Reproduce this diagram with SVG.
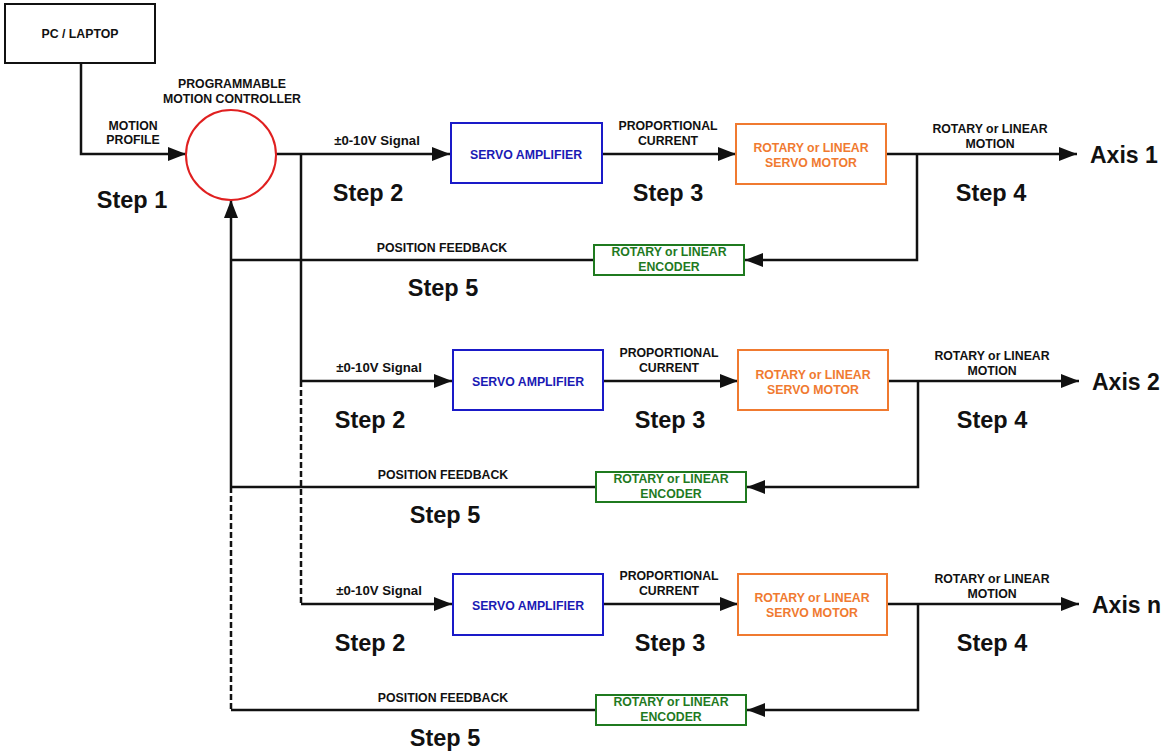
<svg xmlns="http://www.w3.org/2000/svg" width="1165" height="756" viewBox="0 0 1165 756">
<defs>
<style>
.t{font-family:"Liberation Sans",Arial,sans-serif;font-weight:bold;font-size:12.3px;text-anchor:middle;fill:#111}
.sig{font-size:13.2px}
.big{font-family:"Liberation Sans",Arial,sans-serif;font-weight:bold;font-size:23.5px;text-anchor:middle;fill:#111}
.ax{font-family:"Liberation Sans",Arial,sans-serif;font-weight:bold;font-size:23px;fill:#111}
.ln{stroke:#111;stroke-width:2.5;fill:none}
.dash{stroke:#111;stroke-width:2.5;fill:none;stroke-dasharray:6 3}
.amp{fill:#fff;stroke:#1a1ac8;stroke-width:2}
.mot{fill:#fff;stroke:#f07a30;stroke-width:2}
.enc{fill:#fff;stroke:#1f7a1f;stroke-width:2}
.tb{fill:#1a1ab4}
.to{fill:#f07a30}
.tg{fill:#1f7a1f}
</style>
<marker id="ah" markerUnits="userSpaceOnUse" markerWidth="18" markerHeight="14" refX="18" refY="7" orient="auto">
<path d="M0,0 L18,7 L0,14 z" fill="#111"/>
</marker>
</defs>
<rect width="1165" height="756" fill="#fff"/>

<g id="connectors">
<path class="ln" d="M81,63 V154 H186" marker-end="url(#ah)"/>
<path class="ln" d="M276,154 H450" marker-end="url(#ah)"/>
<path class="ln" d="M301,154 V381"/>
<path class="dash" d="M301,381 V604"/>
<path class="ln" d="M231,487 V200" marker-end="url(#ah)"/>
<path class="dash" d="M231,487 V710"/>
<!-- row 1 -->
<path class="ln" d="M602,154 H736" marker-end="url(#ah)"/>
<path class="ln" d="M886,154 H1077" marker-end="url(#ah)"/>
<path class="ln" d="M917,154 V260 H745" marker-end="url(#ah)"/>
<path class="ln" d="M594,260 H231"/>
<!-- row 2 -->
<path class="ln" d="M301,381 H452" marker-end="url(#ah)"/>
<path class="ln" d="M603,381 H738" marker-end="url(#ah)"/>
<path class="ln" d="M888,381 H1079" marker-end="url(#ah)"/>
<path class="ln" d="M918,381 V487 H747" marker-end="url(#ah)"/>
<path class="ln" d="M596,487 H231"/>
<!-- row 3 -->
<path class="ln" d="M301,604 H452" marker-end="url(#ah)"/>
<path class="ln" d="M603,604 H738" marker-end="url(#ah)"/>
<path class="ln" d="M887,604 H1079" marker-end="url(#ah)"/>
<path class="ln" d="M918,604 V710 H747" marker-end="url(#ah)"/>
<path class="ln" d="M596,710 H231"/>
</g>

<g id="pc">
<rect x="5" y="4" width="150" height="59" fill="#fff" stroke="#111" stroke-width="2"/>
<text class="t" x="80" y="38">PC / LAPTOP</text>
</g>

<g id="controller">
<circle cx="231" cy="155" r="45" fill="#fff" stroke="#e02020" stroke-width="2"/>
<text class="t" x="232" y="88">PROGRAMMABLE</text>
<text class="t" x="232" y="103">MOTION CONTROLLER</text>
</g>

<g id="labels-common">
<text class="t" x="133" y="130">MOTION</text>
<text class="t" x="133" y="144">PROFILE</text>
<text class="big" x="132" y="208">Step 1</text>
</g>

<!-- Row 1 -->
<g id="amp1">
<rect class="amp" x="451" y="123" width="151" height="60"/>
<text class="t tb" x="526" y="159">SERVO AMPLIFIER</text>
</g>
<g id="motor1">
<rect class="mot" x="736" y="124" width="150" height="60"/>
<text class="t to" x="811" y="152">ROTARY or LINEAR</text>
<text class="t to" x="811" y="167">SERVO MOTOR</text>
</g>
<g id="enc1">
<rect class="enc" x="594" y="245" width="150" height="30"/>
<text class="t tg" x="669" y="256">ROTARY or LINEAR</text>
<text class="t tg" x="669" y="271">ENCODER</text>
</g>
<g id="labels1">
<text class="t sig" x="377" y="145">±0-10V Signal</text>
<text class="t" x="668" y="130">PROPORTIONAL</text>
<text class="t" x="668" y="145">CURRENT</text>
<text class="t" x="990" y="133">ROTARY or LINEAR</text>
<text class="t" x="990" y="148">MOTION</text>
<text class="t" x="442" y="252">POSITION FEEDBACK</text>
<text class="big" x="368" y="201">Step 2</text>
<text class="big" x="668" y="201">Step 3</text>
<text class="big" x="991" y="201">Step 4</text>
<text class="big" x="443" y="296">Step 5</text>
<text class="ax" x="1090" y="163">Axis 1</text>
</g>

<!-- Row 2 -->
<g id="amp2">
<rect class="amp" x="453" y="350" width="150" height="60"/>
<text class="t tb" x="528" y="386">SERVO AMPLIFIER</text>
</g>
<g id="motor2">
<rect class="mot" x="738" y="350" width="150" height="60"/>
<text class="t to" x="813" y="379">ROTARY or LINEAR</text>
<text class="t to" x="813" y="394">SERVO MOTOR</text>
</g>
<g id="enc2">
<rect class="enc" x="596" y="472" width="150" height="30"/>
<text class="t tg" x="671" y="483">ROTARY or LINEAR</text>
<text class="t tg" x="671" y="498">ENCODER</text>
</g>
<g id="labels2">
<text class="t sig" x="379" y="372">±0-10V Signal</text>
<text class="t" x="669" y="357">PROPORTIONAL</text>
<text class="t" x="669" y="372">CURRENT</text>
<text class="t" x="992" y="360">ROTARY or LINEAR</text>
<text class="t" x="992" y="375">MOTION</text>
<text class="t" x="443" y="479">POSITION FEEDBACK</text>
<text class="big" x="370" y="428">Step 2</text>
<text class="big" x="670" y="428">Step 3</text>
<text class="big" x="992" y="428">Step 4</text>
<text class="big" x="445" y="523">Step 5</text>
<text class="ax" x="1092" y="390">Axis 2</text>
</g>

<!-- Row 3 -->
<g id="amp3">
<rect class="amp" x="453" y="574" width="150" height="61"/>
<text class="t tb" x="528" y="610">SERVO AMPLIFIER</text>
</g>
<g id="motor3">
<rect class="mot" x="738" y="574" width="149" height="61"/>
<text class="t to" x="812" y="602">ROTARY or LINEAR</text>
<text class="t to" x="812" y="617">SERVO MOTOR</text>
</g>
<g id="enc3">
<rect class="enc" x="596" y="695" width="150" height="30"/>
<text class="t tg" x="671" y="706">ROTARY or LINEAR</text>
<text class="t tg" x="671" y="721">ENCODER</text>
</g>
<g id="labels3">
<text class="t sig" x="379" y="595">±0-10V Signal</text>
<text class="t" x="669" y="580">PROPORTIONAL</text>
<text class="t" x="669" y="595">CURRENT</text>
<text class="t" x="992" y="583">ROTARY or LINEAR</text>
<text class="t" x="992" y="598">MOTION</text>
<text class="t" x="443" y="702">POSITION FEEDBACK</text>
<text class="big" x="370" y="651">Step 2</text>
<text class="big" x="670" y="651">Step 3</text>
<text class="big" x="992" y="651">Step 4</text>
<text class="big" x="445" y="746">Step 5</text>
<text class="ax" x="1092" y="613">Axis n</text>
</g>
</svg>
